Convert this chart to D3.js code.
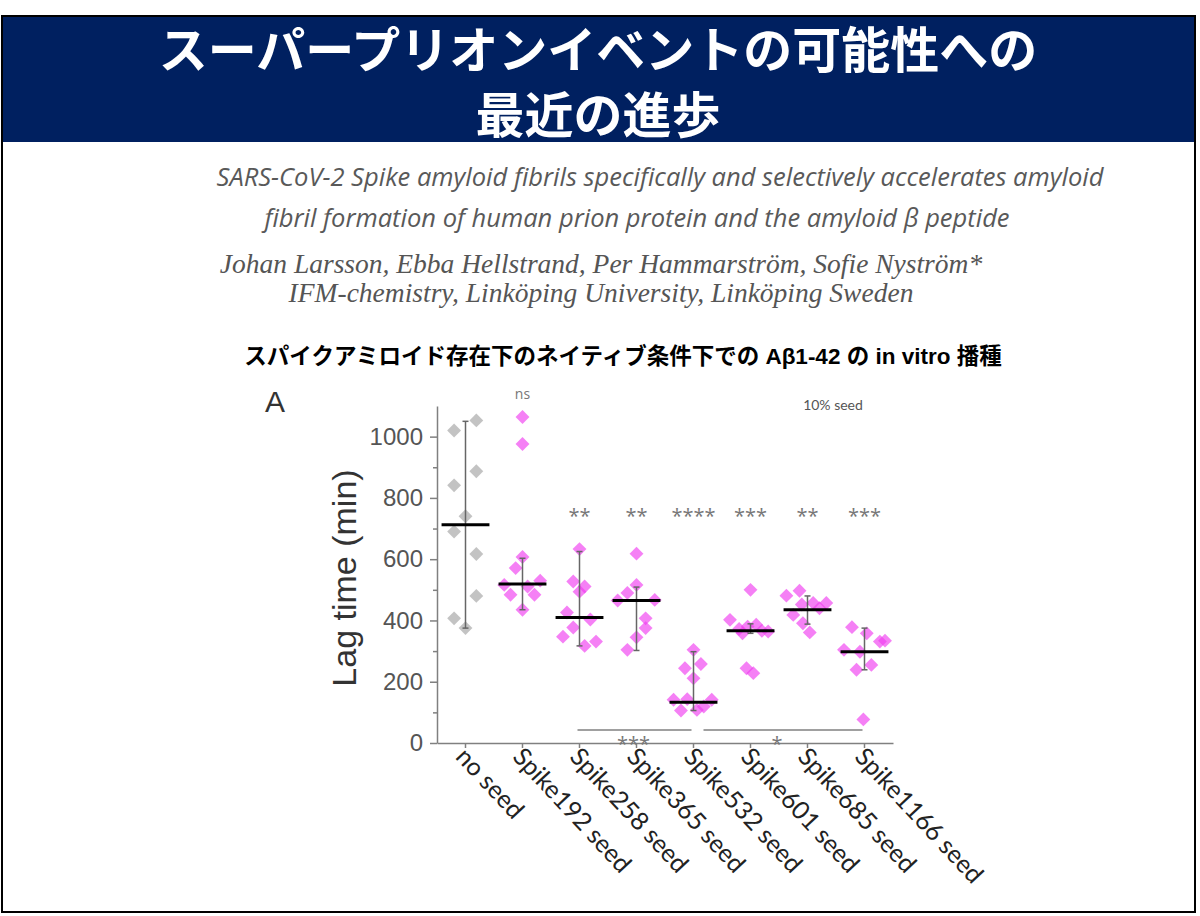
<!DOCTYPE html>
<html lang="ja">
<head>
<meta charset="UTF-8">
<script src="https://d3js.org/d3.v7.min.js"></script>
<style>
    body { margin: 0; background: #fff; }
    svg { display: block; }
</style>
</head>
<body>
<svg id="canvas" width="1200" height="916"></svg>
<script>
// ---- data ----
const categories = ["no seed", "Spike192 seed", "Spike258 seed", "Spike365 seed",
    "Spike532 seed", "Spike601 seed", "Spike685 seed", "Spike1166 seed"];

// lag times (min) per group
const lagValues = [
    [1053, 1020, 887, 841, 740, 690, 617, 480, 407, 375],
    [1064, 976, 607, 571, 530, 516, 511, 484, 484, 435],
    [633, 527, 511, 494, 426, 403, 377, 347, 331, 317],
    [618, 516, 490, 465, 467, 407, 375, 345, 304],
    [304, 244, 258, 211, 141, 143, 141, 106, 108, 119],
    [500, 402, 386, 380, 372, 364, 358, 366, 244, 228],
    [481, 497, 457, 457, 440, 418, 391, 361, 452],
    [378, 358, 331, 334, 304, 298, 255, 239, 77]
];
// horizontal scatter of each point, fraction of category width
const jitter = [
    [0.19, -0.2, 0.19, -0.2, 0, -0.2, 0.19, 0.19, -0.2, 0],
    [0, 0, 0, -0.12, 0.31, -0.32, 0.09, -0.21, 0.21, 0],
    [0, -0.11, 0.09, 0, -0.22, 0.19, -0.11, -0.29, 0.29, 0.09],
    [0, 0, -0.16, -0.33, 0.32, 0.16, 0.16, 0, -0.16],
    [0, -0.15, 0.13, 0, -0.35, -0.11, 0.32, -0.22, 0.06, 0.18],
    [0, -0.36, 0.1, -0.05, -0.2, 0.31, -0.14, 0.2, -0.07, 0.05],
    [-0.37, -0.14, 0.1, 0.33, 0.21, -0.25, -0.08, 0.04, -0.1],
    [-0.22, 0.04, 0.27, 0.36, -0.36, -0.08, 0.12, -0.14, -0.02]
];
const medians = [712, 519, 410, 465, 133, 366, 435, 298];
const errLow = [375, 435, 317, 302, 106, 358, 388, 239];
const errHigh = [1050, 603, 625, 509, 298, 389, 480, 375];
const significance = ["", "ns", "**", "**", "****", "***", "**", "***"];
// pairwise comparison brackets: [from category, to category, label]
const brackets = [
    ["Spike258 seed", "Spike532 seed", "***"],
    ["Spike532 seed", "Spike1166 seed", "*"]
];
const yTicks = [0, 200, 400, 600, 800, 1000];
const yMinorTicks = [100, 300, 500, 700, 900];

const titleLines = ["スーパープリオンイベントの可能性への", "最近の進歩"];
const paperTitle = ["SARS-CoV-2 Spike amyloid fibrils specifically and selectively accelerates amyloid",
    "fibril formation of human prion protein and the amyloid β peptide"];
const authors = ["Johan Larsson, Ebba Hellstrand, Per Hammarström, Sofie Nyström*",
    "IFM-chemistry, Linköping University, Linköping Sweden"];
const chartHeading = "スパイクアミロイド存在下のネイティブ条件下での Aβ1-42 の in vitro 播種";

// ---- page ----
let svg = d3.select("#canvas");

svg.append("rect")
    .attr("x", 2).attr("y", 16).attr("width", 1193).attr("height", 126)
    .attr("fill", "#002060");

// both title lines in one text element
svg.append("text")
    .attr("text-anchor", "middle")
    .attr("fill", "#fff")
    .attr("font-family", "'Noto Sans CJK JP', sans-serif")
    .attr("font-weight", 700)
    .attr("font-size", 49)
    .selectAll("tspan")
    .data(titleLines)
    .join("tspan")
    .attr("x", 598)
    .attr("y", (d, i) => 68 + i * 65)
    .text(d => d);

svg.selectAll(".paper")
    .data(paperTitle)
    .join("text")
    .attr("class", "paper")
    .attr("x", (d, i) => i == 0 ? 660 : 637)
    .attr("y", (d, i) => 186 + i * 41)
    .attr("text-anchor", "middle")
    .attr("fill", "#595959")
    .attr("font-family", "'Open Sans', sans-serif")
    .attr("font-style", "italic")
    .attr("font-size", 25.5)
    .text(d => d);

svg.selectAll(".authors")
    .data(authors)
    .join("text")
    .attr("class", "authors")
    .attr("x", 601)
    .attr("y", (d, i) => 273 + i * 29)
    .attr("text-anchor", "middle")
    .attr("fill", "#555")
    .attr("font-family", "'Liberation Serif', serif")
    .attr("font-style", "italic")
    .attr("font-size", 27.5)
    .text(d => d);

svg.append("text")
    .attr("x", 623).attr("y", 364)
    .attr("text-anchor", "middle")
    .attr("font-family", "'Liberation Sans', 'Noto Sans CJK JP', sans-serif")
    .attr("font-weight", 700)
    .attr("font-size", 22.5)
    .attr("fill", "#000")
    .text(chartHeading);

// ---- chart ----
const xScale = d3.scaleBand()
    .domain(categories)
    .range([437, 893])
    .padding(0);

const yScale = d3.scaleLinear()
    .domain([0, 1100])
    .range([743, 406]);

const axisColor = "#808080";

let yAxis = svg.append("g")
    .attr("transform", "translate(437,0)")
    .call(d3.axisLeft(yScale).tickValues(yTicks).tickFormat(d3.format("d"))
        .tickSize(7).tickPadding(7).tickSizeOuter(0));
yAxis.select(".domain").attr("stroke", axisColor).attr("stroke-width", 1.5);
yAxis.selectAll(".tick line").attr("stroke", axisColor).attr("stroke-width", 1.5);
yAxis.selectAll(".tick text")
    .attr("font-family", "'Liberation Sans', Arial, sans-serif")
    .attr("font-size", 24)
    .attr("fill", "#555");

let yMinor = svg.append("g")
    .attr("transform", "translate(437,0)")
    .call(d3.axisLeft(yScale).tickValues(yMinorTicks).tickSize(4).tickFormat(""));
yMinor.select(".domain").remove();
yMinor.selectAll(".tick line").attr("stroke", axisColor).attr("stroke-width", 1.5);

let xAxis = svg.append("g")
    .attr("transform", "translate(0,743)")
    .call(d3.axisBottom(xScale).tickSize(5).tickSizeOuter(0));
xAxis.select(".domain").attr("stroke", axisColor).attr("stroke-width", 1.5);
xAxis.selectAll(".tick line").attr("stroke", axisColor).attr("stroke-width", 1.5);
xAxis.selectAll(".tick text")
    .attr("font-family", "Lato, 'Open Sans', sans-serif")
    .attr("font-size", 25)
    .attr("fill", "#222")
    .attr("text-anchor", "start")
    .attr("dy", "0.72em")
    .attr("transform", "translate(8,-3) rotate(47)");

svg.append("text")
    .attr("transform", "translate(356,578) rotate(-90)")
    .attr("text-anchor", "middle")
    .attr("font-family", "'Liberation Sans', Arial, sans-serif")
    .attr("font-size", 34)
    .attr("fill", "#333")
    .text("Lag time (min)");

svg.append("text")
    .attr("x", 265).attr("y", 412)
    .attr("font-family", "'Liberation Sans', Arial, sans-serif")
    .attr("font-size", 30)
    .attr("fill", "#333")
    .text("A");

svg.append("text")
    .attr("x", 833).attr("y", 410)
    .attr("text-anchor", "middle")
    .attr("font-family", "Lato, sans-serif")
    .attr("font-size", 14)
    .attr("fill", "#555")
    .text("10% seed");

let points = [];
categories.forEach((c, i) => {
    lagValues[i].forEach((v, k) => points.push({ cat: c, group: i, value: v, j: jitter[i][k] }));
});

const bw = xScale.bandwidth();
const cx = c => xScale(c) + bw / 2;
const diamond = d3.symbol().type(d3.symbolSquare).size(96);

svg.append("g")
    .selectAll("path")
    .data(points)
    .join("path")
    .attr("d", diamond)
    .attr("transform", d => `translate(${cx(d.cat) + d.j * bw},${yScale(d.value)}) rotate(45)`)
    .attr("fill", d => d.group == 0 ? "#b4b4b4" : "#f03cf0")
    .attr("fill-opacity", d => d.group == 0 ? 0.8 : 0.65);

// error bars
let errG = svg.append("g")
    .selectAll("g")
    .data(categories)
    .join("g");

errG.append("line")
    .attr("x1", d => cx(d)).attr("x2", d => cx(d))
    .attr("y1", (d, i) => yScale(errLow[i]))
    .attr("y2", (d, i) => yScale(errHigh[i]))
    .attr("stroke", "#666").attr("stroke-width", 1.5);

errG.selectAll(".cap")
    .data((d, i) => [[d, errLow[i]], [d, errHigh[i]]])
    .join("line")
    .attr("class", "cap")
    .attr("x1", d => cx(d[0]) - 3).attr("x2", d => cx(d[0]) + 3)
    .attr("y1", d => yScale(d[1])).attr("y2", d => yScale(d[1]))
    .attr("stroke", "#666").attr("stroke-width", 1.5);

// median lines
svg.append("g")
    .selectAll("line")
    .data(categories)
    .join("line")
    .attr("x1", d => cx(d) - bw * 0.42)
    .attr("x2", d => cx(d) + bw * 0.42)
    .attr("y1", (d, i) => yScale(medians[i]))
    .attr("y2", (d, i) => yScale(medians[i]))
    .attr("stroke", "#000")
    .attr("stroke-width", 3);

// significance vs no seed
svg.append("g")
    .selectAll("text")
    .data(categories)
    .join("text")
    .attr("x", d => cx(d))
    .attr("y", (d, i) => significance[i] == "ns" ? 399 : 523)
    .attr("text-anchor", "middle")
    .attr("font-family", "'Open Sans', sans-serif")
    .attr("font-size", (d, i) => significance[i] == "ns" ? 14 : 20)
    .attr("fill", "#777")
    .text((d, i) => significance[i]);

// comparison brackets (second one starts just right of the shared group)
let br = svg.append("g")
    .selectAll("g")
    .data(brackets)
    .join("g");

br.append("line")
    .attr("x1", (d, i) => cx(d[0]) + (i == 0 ? -2 : 10))
    .attr("x2", d => cx(d[1]) - 2)
    .attr("y1", 730).attr("y2", 730)
    .attr("stroke", axisColor).attr("stroke-width", 1.5);

br.append("text")
    .attr("x", (d, i) => i == 0 ? (cx(d[0]) + cx(d[1])) / 2 - 3 : 777)
    .attr("y", 751)
    .attr("text-anchor", "middle")
    .attr("font-family", "'Open Sans', sans-serif")
    .attr("font-size", 20)
    .attr("fill", "#777")
    .text(d => d[2]);

// slide frame
svg.append("rect")
    .attr("x", 2).attr("y", 16).attr("width", 1193).attr("height", 896)
    .attr("fill", "none")
    .attr("stroke", "#000")
    .attr("stroke-width", 2);
</script>
</body>
</html>
